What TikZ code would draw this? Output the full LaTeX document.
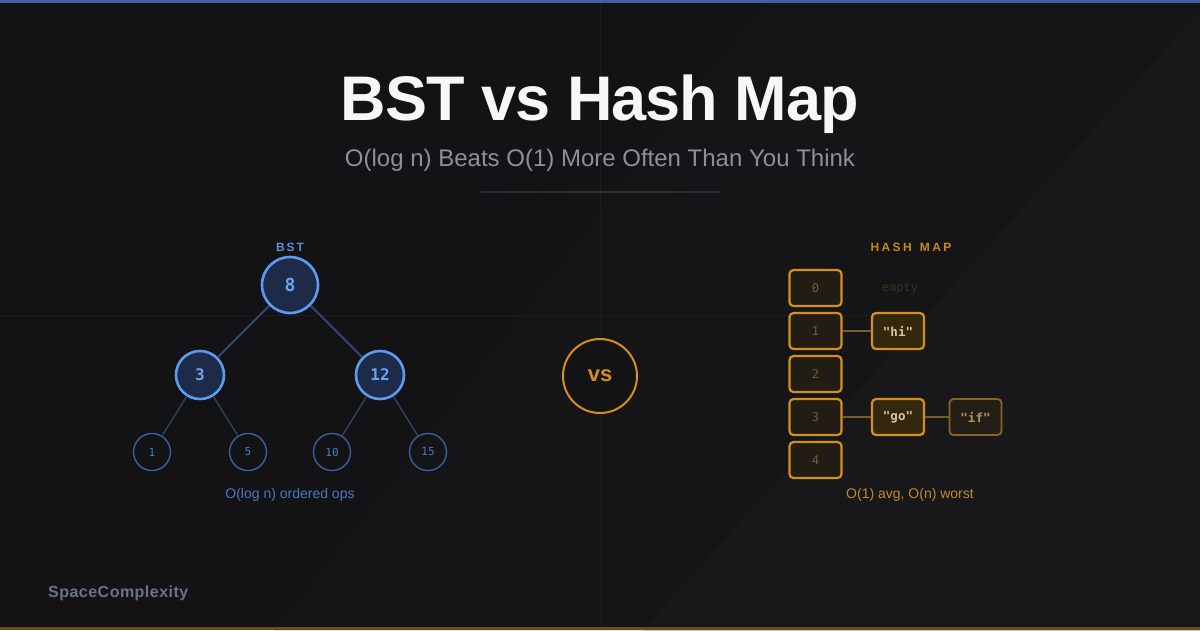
\documentclass[tikz,border=0pt]{standalone}
\usepackage{fontspec}
\setmainfont{Liberation Sans}
\newfontfamily\monof{DejaVu Sans Mono}
\definecolor{bg}{HTML}{131316}
\definecolor{bandA}{HTML}{151518}
\definecolor{bandB}{HTML}{18181B}
\definecolor{gridc}{HTML}{1C1C20}
\definecolor{topbar}{HTML}{3D63A5}
\definecolor{botbar}{HTML}{6B4C17}
\definecolor{titlec}{HTML}{F7F7F7}
\definecolor{subc}{HTML}{8B9099}
\definecolor{bstblue}{HTML}{5B9CF0}
\definecolor{bstfill}{HTML}{1E2B48}
\definecolor{bsttext}{HTML}{6AA3F2}
\definecolor{bstlabel}{HTML}{5B8FD9}
\definecolor{leafstroke}{HTML}{3A5F9A}
\definecolor{leaftext}{HTML}{4B7BC4}
\definecolor{edgec}{HTML}{34486A}
\definecolor{edgeleaf}{HTML}{2E405E}
\definecolor{bstcap}{HTML}{4A78C0}
\definecolor{gold}{HTML}{D4901A}
\definecolor{goldtxt}{HTML}{C8861A}
\definecolor{bucketfill}{HTML}{211C14}
\definecolor{buckettxt}{HTML}{7D5C26}
\definecolor{valfill}{HTML}{33270E}
\definecolor{valtxt}{HTML}{DCC39A}
\definecolor{iffill}{HTML}{241F16}
\definecolor{ifstroke}{HTML}{8A6421}
\definecolor{iftxt}{HTML}{B39668}
\definecolor{connc}{HTML}{7A5A25}
\definecolor{emptyc}{HTML}{3A3122}
\definecolor{hashcap}{HTML}{C08A2A}
\definecolor{footc}{HTML}{6A7386}
\definecolor{divgold}{HTML}{3C321E}
\definecolor{divblue}{HTML}{252A36}
\tikzset{
  bignode/.style={circle, draw=bstblue, line width=2.6pt, fill=bstfill, inner sep=0pt, text=bsttext},
  leafnode/.style={circle, draw=leafstroke, line width=1.4pt, minimum size=37pt, inner sep=0pt, text=leaftext, font=\monof\fontsize{11}{13}\selectfont},
  edgebig/.style={draw=edgec, line width=2pt},
  edgesmall/.style={draw=edgeleaf, line width=1.5pt},
  bucket/.style={draw=gold, line width=2.2pt, rounded corners=4pt, fill=bucketfill, minimum width=52pt, minimum height=36pt, inner sep=0pt, text=buckettxt, font=\monof\fontsize{12}{14}\selectfont},
  valbox/.style={draw=gold, line width=2.2pt, rounded corners=4pt, fill=valfill, minimum width=52pt, minimum height=36pt, inner sep=0pt, text=valtxt, font=\monof\bfseries\fontsize{12.5}{14}\selectfont},
  ifbox/.style={valbox, draw=ifstroke, fill=iffill, text=iftxt, line width=1.8pt},
  conn/.style={draw=connc, line width=2pt},
}
\begin{document}
\begin{tikzpicture}[x=1pt, y=-1pt]
\useasboundingbox (0,0) rectangle (1200,630);
\clip (0,0) rectangle (1200,630);
% background
\fill[bg] (0,0) rectangle (1200,630);
\fill[bandA] (765,0) -- (1200,0) -- (1200,630) -- (274,630) -- cycle;
\fill[bandB] (1210,0) -- (1200,0) -- (1200,630) -- (643,630) -- cycle;
% faint grid
\draw[gridc, line width=1pt] (600,0) -- (600,630);
\draw[gridc, line width=1pt] (0,315) -- (1200,315);
% bars
\fill[topbar] (0,0) rectangle (1200,3);
\fill[botbar] (0,627) rectangle (1200,630);
% title
\node[text=titlec, font=\bfseries\fontsize{63}{75}\selectfont\addfontfeature{LetterSpace=-1.5}, inner sep=0pt, anchor=base] (title) at (600,120) {BST vs Hash Map};
\node[text=subc, font=\fontsize{24}{28}\selectfont, inner sep=0pt, anchor=base] (sub) at (600,166) {O(log n) Beats O(1) More Often Than You Think};
\shade[left color=divblue, right color=divblue, middle color=divgold] (480,191.5) rectangle (720,192.5);
% BST
\node[text=bstlabel, font=\bfseries\fontsize{12}{14}\selectfont, inner sep=0pt, anchor=base] (bstlab) at (290,251.5) {B\kern2pt S\kern2pt T};
\node[bignode, minimum size=56pt, font=\monof\bfseries\fontsize{18}{20}\selectfont] (r) at (290,285) {8};
\node[bignode, minimum size=48pt, font=\monof\bfseries\fontsize{16}{18}\selectfont] (n3) at (200,375) {3};
\node[bignode, minimum size=48pt, font=\monof\bfseries\fontsize{16}{18}\selectfont] (n12) at (380,375) {12};
\node[leafnode] (n1) at (152,452) {1};
\node[leafnode] (n5) at (248,452) {5};
\node[leafnode] (n10) at (332,452) {10};
\node[leafnode] (n15) at (428,452) {15};
\path[edgebig] (r) -- (n3);
\path[edgebig] (r) -- (n12);
\path[edgesmall] (n3) -- (n1);
\path[edgesmall] (n3) -- (n5);
\path[edgesmall] (n12) -- (n10);
\path[edgesmall] (n12) -- (n15);
\node[text=bstcap, font=\fontsize{14}{16}\selectfont, inner sep=0pt] (bstcapn) at (290,495) {O(log n) ordered ops};
% VS
\node[circle, draw=gold, line width=2pt, minimum size=74pt, inner sep=0pt, fill=bg, text=gold, font=\bfseries\fontsize{22}{24}\selectfont] (vs) at (600,376) {vs};
% Hash map
\node[text=goldtxt, font=\bfseries\fontsize{12}{14}\selectfont, inner sep=0pt, anchor=base] (hashlab) at (911,251.5) {H\kern2.4pt A\kern2.4pt S\kern2.4pt H\kern2.4pt\ \kern2.4pt M\kern2.4pt A\kern2.4pt P};
\node[bucket] (b0) at (815.5,288) {0};
\node[bucket] (b1) at (815.5,331) {1};
\node[bucket] (b2) at (815.5,374) {2};
\node[bucket] (b3) at (815.5,417) {3};
\node[bucket] (b4) at (815.5,460) {4};
\node[text=emptyc, font=\monof\fontsize{12}{14}\selectfont, inner sep=0pt] (empty) at (900,289) {empty};
\node[valbox] (hi) at (898,331) {"hi"};
\node[valbox] (go) at (898,417) {"go"};
\node[ifbox] (if) at (975.5,417) {"if"};
\path[conn] (b1) -- (hi);
\path[conn] (b3) -- (go);
\path[conn] (go) -- (if);
\node[text=hashcap, font=\fontsize{14}{16}\selectfont, inner sep=0pt] (hashcapn) at (910,495) {O(1) avg, O(n) worst};
% footer
\node[text=footc, font=\bfseries\fontsize{16}{18}\selectfont\addfontfeature{LetterSpace=3}, inner sep=0pt, anchor=west] (foot) at (48,593) {SpaceComplexity};
\end{tikzpicture}
\end{document}
